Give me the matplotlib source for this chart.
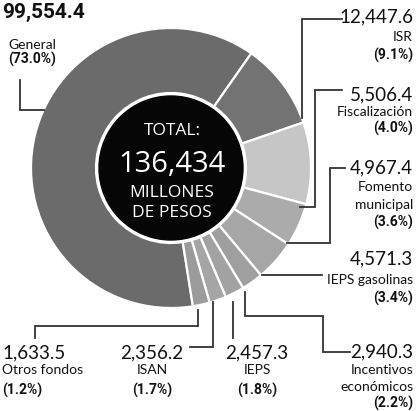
import matplotlib.pyplot as plt

categories = ['General', 'ISR', 'Fiscalización', 'Fomento\nmunicipal', 'IEPS gasolinas',
              'Incentivos\neconómicos', 'IEPS', 'ISAN', 'Otros fondos']
amounts = [99554.4, 12447.6, 5506.4, 4967.4, 4571.3, 2940.3, 2457.3, 2356.2, 1633.5]
shares = [73.0, 9.1, 4.0, 3.6, 3.4, 2.2, 1.8, 1.7, 1.2]
total = 136434

# the printed graphic is not drawn to scale: arc sizes (deg) as they appear
arc_deg = [224, 36, 34, 18, 17, 9, 8, 7, 7]
colors = ['#6b6b6b', '#737373', '#c6c6c6', '#ababab', '#a6a6a6',
          '#9f9f9f', '#a2a2a2', '#a5a5a5', '#9b9b9b']

W, H = 419, 411
Y = lambda y: H - y   # picture rows -> data y

fig = plt.figure(figsize=(W / 100, H / 100), dpi=100)
ax = fig.add_axes([0, 0, 1, 1])

cx, cy, r_out = 171, Y(168), 140
# arcs go clockwise, General starts where Otros fondos ends
ax.pie(arc_deg, colors=colors, center=(cx, cy), radius=r_out, startangle=55 + 224,
       counterclock=False, frame=True,
       wedgeprops=dict(width=r_out - 75, edgecolor='white', linewidth=1.6))
ax.add_patch(plt.Circle((cx, cy), 72, color='#060606', zorder=3))
ax.set_xlim(0, W)
ax.set_ylim(0, H)
ax.axis('off')

narrow = ['Lato', 'DejaVu Sans']
wide = ['Open Sans', 'DejaVu Sans']
heavy = ['Roboto', 'DejaVu Sans']

# centre text
ax.text(172, Y(131), 'TOTAL:', color='white', ha='center', va='center', fontsize=12.5, family=wide, zorder=4)
ax.text(172, Y(165), f'{total:,}', color='white', ha='center', va='center', fontsize=21, family=wide, zorder=4)
ax.text(172, Y(193), 'MILLONES', color='white', ha='center', va='center', fontsize=12.5, family=wide, zorder=4)
ax.text(172, Y(213), 'DE PESOS', color='white', ha='center', va='center', fontsize=12.5, family=wide, zorder=4)

# label layout: x, ha, y of number, y of each name line, y of percentage
layout = {
    'General': (8, 'left', 12, [45], 59),
    'ISR': (413, 'right', 17, [37], 55),
    'Fiscalización': (413, 'right', 95, [112], 128),
    'Fomento\nmunicipal': (413, 'right', 168, [187, 205], 222),
    'IEPS gasolinas': (413, 'right', 259, [280], 298),
    'Incentivos\neconómicos': (413, 'right', 352, [370, 387], 403),
    'IEPS': (257, 'center', 353, [370], 390),
    'ISAN': (152, 'center', 353, [370], 390),
    'Otros fondos': (2, 'left', 353, [370], 390),
}
leaders = {
    'General': [(20, 80), (20, 110), (44, 110)],
    'ISR': [(342, 19), (302, 19), (302, 118)],
    'Fiscalización': [(342, 90), (315, 90), (315, 207), (300, 207)],
    'Fomento\nmunicipal': [(345, 168), (330, 168), (330, 243), (287, 243)],
    'IEPS gasolinas': [(322, 275), (262, 275)],
    'Incentivos\neconómicos': [(350, 352), (323, 352), (323, 316), (245, 316), (245, 292)],
    'IEPS': [(233, 302), (233, 338)],
    'ISAN': [(213, 302), (213, 347), (190, 347)],
    'Otros fondos': [(198, 310), (198, 326), (35, 326), (35, 338)],
}

for cat, amt, pct in zip(categories, amounts, shares):
    x, ha, yn, ynames, yp = layout[cat]
    if cat == 'General':
        ax.text(2, Y(yn), f'{amt:,.1f}', ha=ha, va='center', fontsize=15,
                fontweight='bold', family=heavy, color='#111')
    else:
        ax.text(x, Y(yn), f'{amt:,.1f}', ha=ha, va='center', fontsize=13.5,
                family=narrow, color='#111')
    for line, yl in zip(cat.split('\n'), ynames):
        ax.text(x, Y(yl), line, ha=ha, va='center', fontsize=10, family=narrow, color='#111')
    ax.text(x, Y(yp), f'({pct:.1f}%)', ha=ha, va='center', fontsize=10,
            fontweight='bold', family=heavy, color='#111')
    pts = leaders[cat]
    ax.plot([p[0] for p in pts], [Y(p[1]) for p in pts], color='#333333', lw=1.3,
            solid_joinstyle='miter', zorder=5)

fig.savefig('out.png', dpi=100, facecolor='white')
